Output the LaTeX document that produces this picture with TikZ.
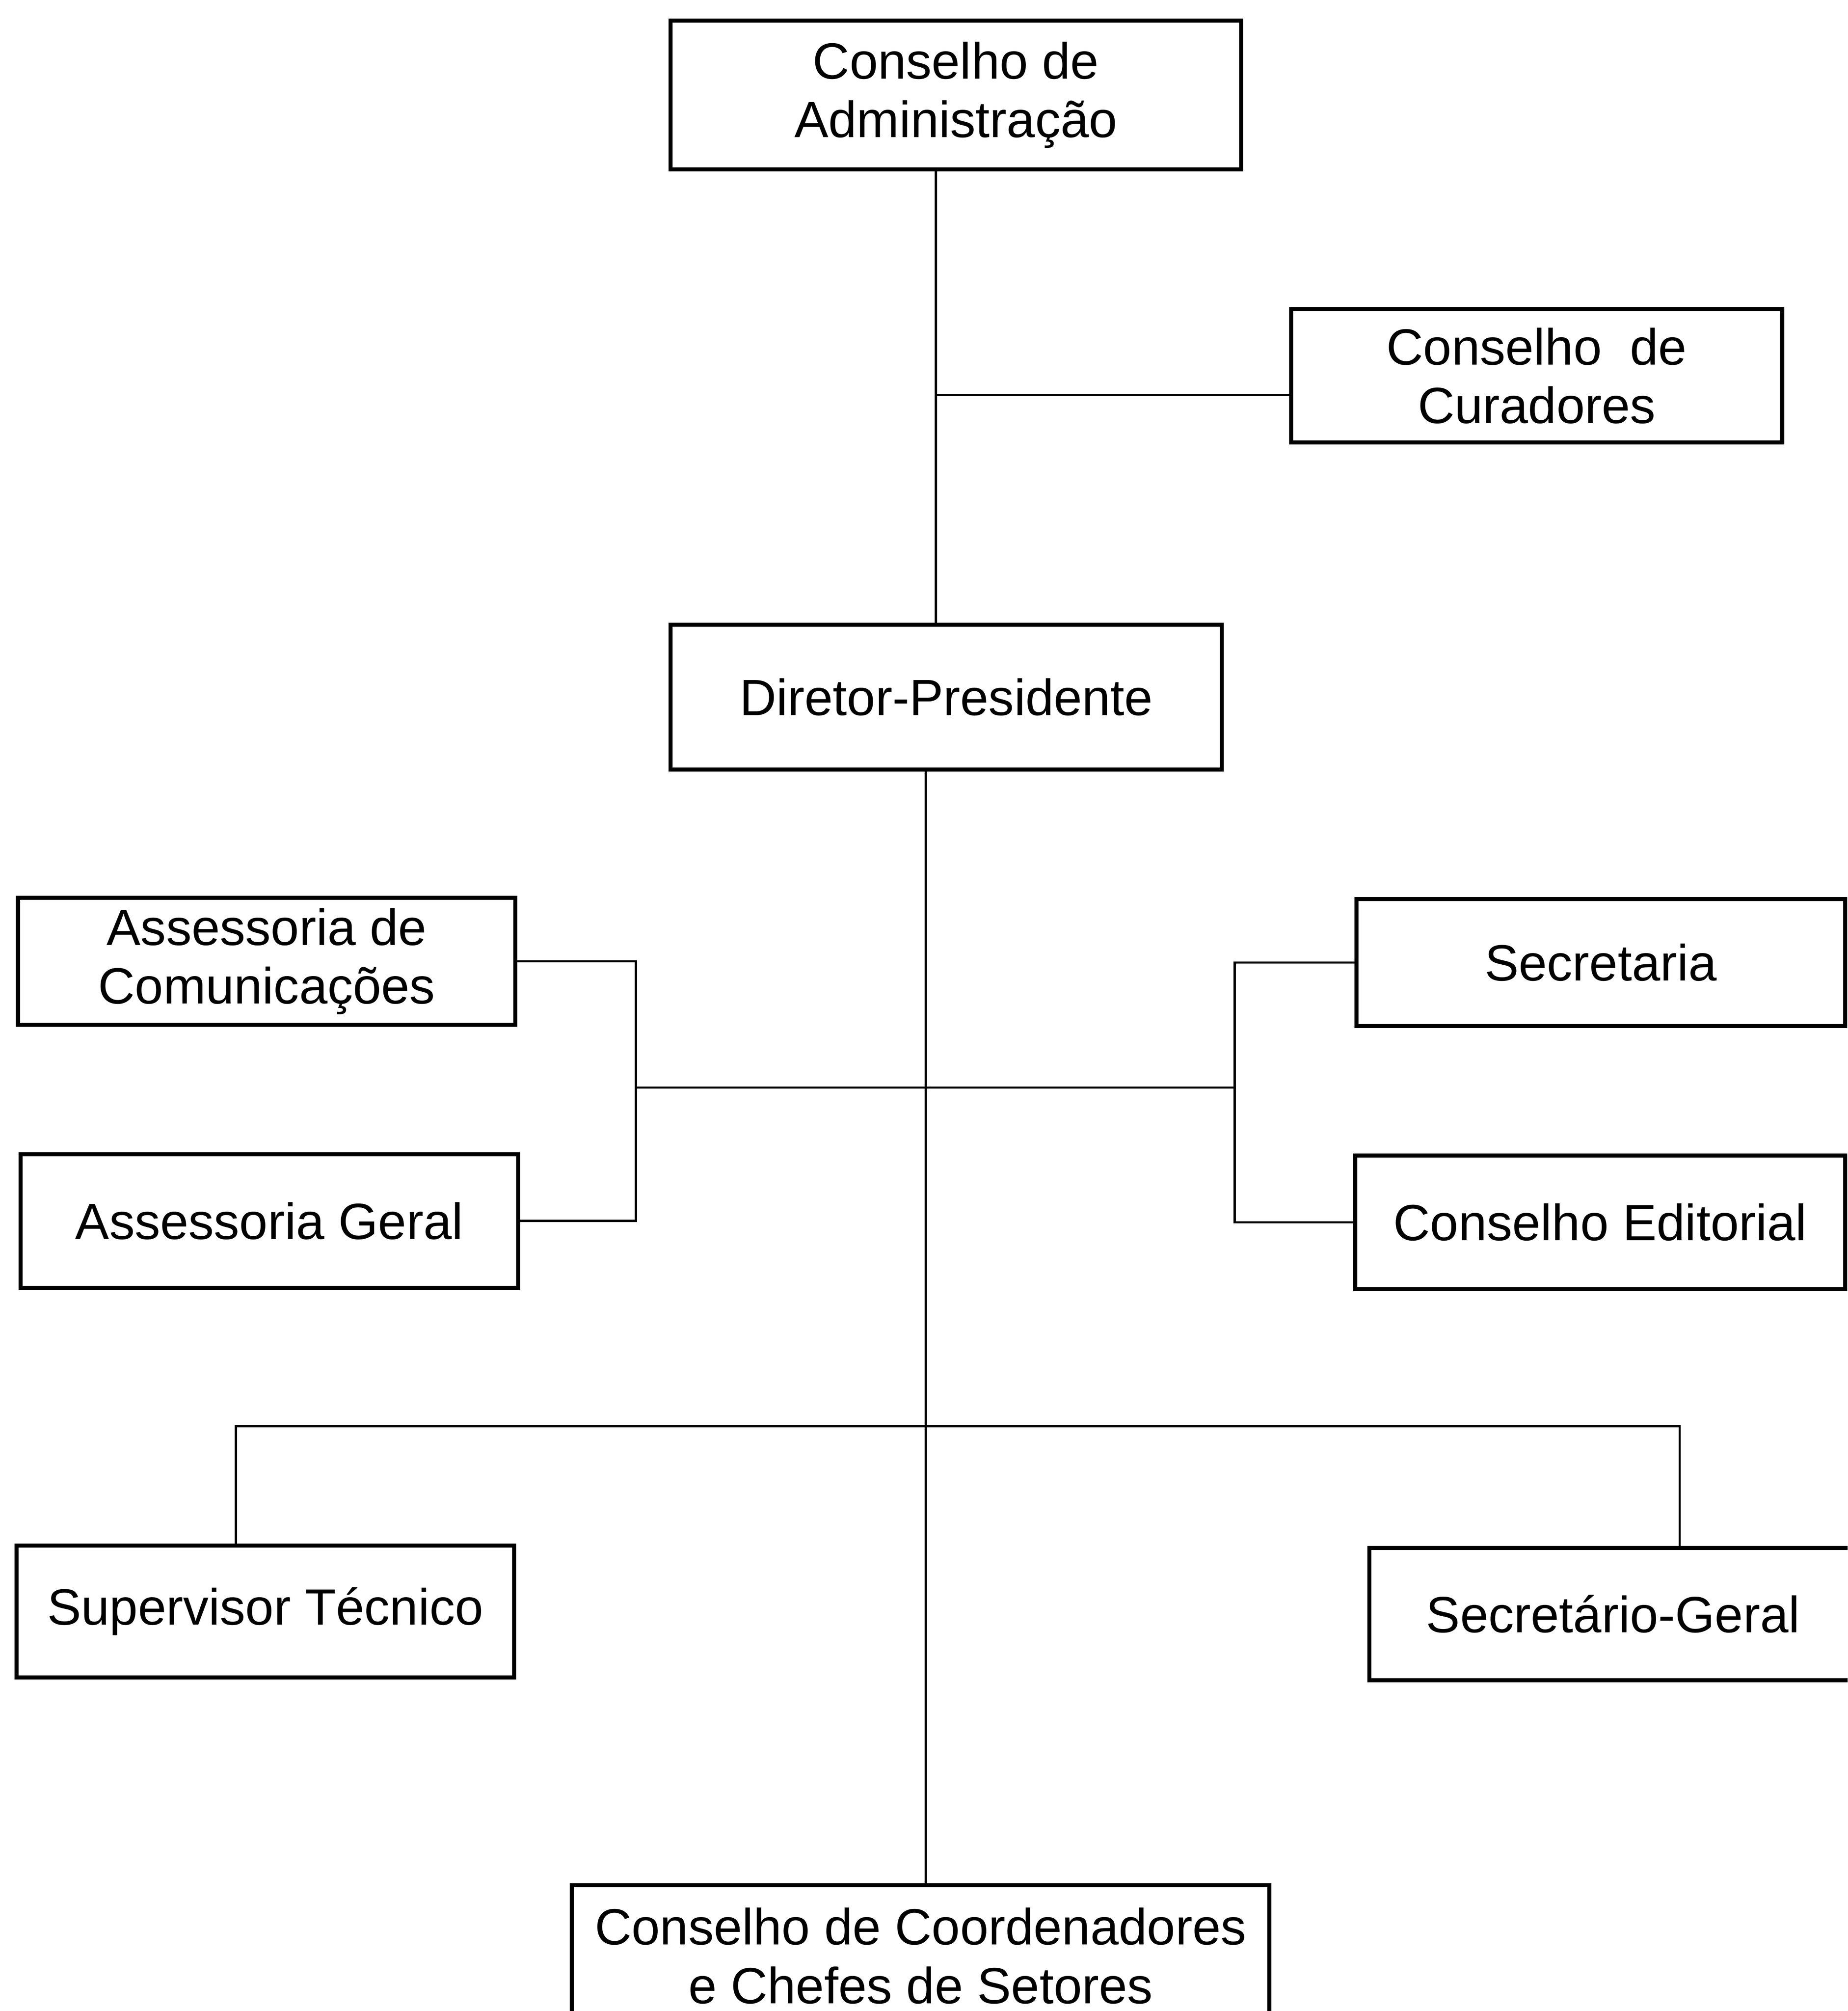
\documentclass[tikz,border=0pt]{standalone}
\usepackage{fontspec}
\setmainfont{Liberation Sans}
\usepackage{tikz}

\begin{document}
\begin{tikzpicture}[x=0.01cm, y=-0.01cm,
    box/.style={draw, line width=0.9pt, inner sep=0pt, align=center,
        font=\fontsize{11.3}{13}\selectfont},
    link/.style={line width=0.5pt}]
        \useasboundingbox (0,0) rectangle (1441,1568);
        \clip (0,0) rectangle (1441,1568);
        % boxes
        \node[box, minimum width=445*0.01cm, minimum height=116*0.01cm] (adm) at (745.5,74) {Conselho de\\Administração};
        \node[box, minimum width=383*0.01cm, minimum height=104*0.01cm] (cur) at (1198.5,293) {Conselho\ \ de\\Curadores};
        \node[box, minimum width=430*0.01cm, minimum height=113*0.01cm] (dir) at (738,543.5) {Diretor-Presidente};
        \node[box, minimum width=388*0.01cm, minimum height=99*0.01cm] (com) at (208,749.5) {Assessoria de\\Comunicações};
        \node[box, minimum width=388*0.01cm, minimum height=104*0.01cm] (ger) at (210,952) {Assessoria Geral};
        \node[box, minimum width=381*0.01cm, minimum height=99*0.01cm] (sec) at (1248.5,750.5) {Secretaria};
        \node[box, minimum width=382*0.01cm, minimum height=104*0.01cm] (edi) at (1248,953) {Conselho Editorial};
        \node[box, minimum width=388*0.01cm, minimum height=103*0.01cm] (sup) at (207,1256.5) {Supervisor Técnico};
        \node[box, minimum width=380*0.01cm, minimum height=103*0.01cm] (sg) at (1258,1258.5) {Secretário-Geral};
        \node[box, minimum width=544*0.01cm, minimum height=110*0.01cm] (coo) at (718,1525) {Conselho de Coordenadores\\e Chefes de Setores};
        % junctions
        \coordinate (top) at (730,308);
        \coordinate (spine) at (722,848);
        \coordinate (lb) at (496,848);
        \coordinate (rb) at (963,848);
        \coordinate (bl) at (184,1112);
        \coordinate (br) at (1310,1112);
        % lines
        \draw[link] (adm.south -| top)--(dir.north -| top);
        \draw[link] (top)--(top -| cur.west);
        \draw[link] (dir.south -| spine)--(coo.north -| spine);
        \draw[link] (com.east) -| (lb) |- (ger.east);
        \draw[link] (sec.west) -| (rb) |- (edi.west);
        \draw[link] (lb)--(rb);
        \draw[link] (sup.north -| bl)--(bl)--(br)--(sg.north -| br);
    \end{tikzpicture}
\end{document}
